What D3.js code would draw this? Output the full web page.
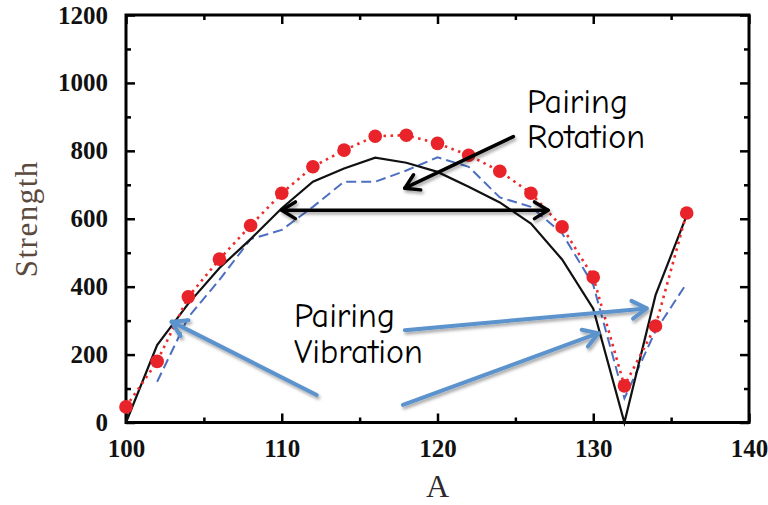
<!DOCTYPE html>
<html>
<head>
<meta charset="utf-8">
<script src="https://cdn.jsdelivr.net/npm/d3@7/dist/d3.min.js"></script>
<style>
  html, body { margin: 0; padding: 0; background: #fff; }
  svg { display: block; }
</style>
</head>
<body>
<svg id="chart" width="768" height="505"></svg>
<script>
// Mass number A (even nuclei)
const massA = [100, 102, 104, 106, 108, 110, 112, 114, 116, 118, 120, 122, 124, 126, 128, 130, 132, 134, 136];
// Red dotted series with markers
const redStrength = [46, 180, 370, 481, 580, 675, 753, 802, 843, 846, 822, 787, 740, 675, 576, 428, 108, 284, 617];
// Black solid series
const blackStrength = [0, 228, 350, 455, 540, 631, 709, 748, 780, 765, 738, 694, 648, 586, 480, 335, 0, 375, 610];
// Blue dashed series (no value at A = 100)
const blueStrength = [null, 120, 310, 420, 540, 567, 635, 709, 709, 742, 781, 753, 663, 635, 557, 405, 71, 270, 410];

const xMajorTicks = [100, 110, 120, 130, 140];
const xMinorTicks = [105, 115, 125, 135];
const yMajorTicks = [0, 200, 400, 600, 800, 1000, 1200];
const yMinorTicks = [100, 300, 500, 700, 900, 1100];

// Annotations in data units: [A, strength]
const rotationLabel = ["Pairing", "Rotation"];
const vibrationLabel = ["Pairing", "Vibration"];
const rotationArrow = [[124.87, 842], [117.9, 690]];
const widthArrow = [[110.0, 625], [127.1, 625]];
const vibrationArrows = [
  [[112.24, 81], [102.93, 297]],
  [[117.9, 272], [133.43, 336]],
  [[117.78, 52], [130.33, 263]]
];

const svg = d3.select("#chart");
const plotL = 126, plotR = 749, plotT = 15, plotB = 422.5;
const x = d3.scaleLinear().domain([100, 140]).range([plotL, plotR]);
const y = d3.scaleLinear().domain([0, 1200]).range([plotB, plotT]);

const defs = svg.append("defs");
const shadow = defs.append("filter").attr("id", "shadow")
  .attr("x", "-20%").attr("y", "-50%").attr("width", "140%").attr("height", "200%");
shadow.append("feDropShadow").attr("dx", 1.5).attr("dy", 2.5).attr("stdDeviation", 1.6)
  .attr("flood-color", "#000").attr("flood-opacity", 0.35);

const tickFont = "'Liberation Serif', 'Times New Roman', serif";

// Axes with inward ticks on all four sides
function styleAxis(g) {
  g.select(".domain").remove();
  g.selectAll(".tick line").attr("stroke", "#000").attr("stroke-width", 2.5);
  g.selectAll(".tick text").attr("font-family", tickFont).attr("font-weight", "bold")
    .attr("font-size", 25).attr("fill", "#111");
}

svg.append("g").attr("transform", `translate(0,${plotB})`)
  .call(d3.axisBottom(x).tickValues(xMajorTicks).tickSize(-9).tickPadding(17).tickFormat(d3.format("d")))
  .call(styleAxis);
svg.append("g").attr("transform", `translate(0,${plotB})`)
  .call(d3.axisBottom(x).tickValues(xMinorTicks).tickSize(-5).tickFormat(""))
  .call(styleAxis);
svg.append("g").attr("transform", `translate(0,${plotT})`)
  .call(d3.axisTop(x).tickValues(xMajorTicks).tickSize(-9).tickFormat(""))
  .call(styleAxis);
svg.append("g").attr("transform", `translate(0,${plotT})`)
  .call(d3.axisTop(x).tickValues(xMinorTicks).tickSize(-5).tickFormat(""))
  .call(styleAxis);
svg.append("g").attr("transform", `translate(${plotL},0)`)
  .call(d3.axisLeft(y).tickValues(yMajorTicks).tickSize(-9).tickPadding(18).tickFormat(d3.format("d")))
  .call(styleAxis);
svg.append("g").attr("transform", `translate(${plotL},0)`)
  .call(d3.axisLeft(y).tickValues(yMinorTicks).tickSize(-5).tickFormat(""))
  .call(styleAxis);
svg.append("g").attr("transform", `translate(${plotR},0)`)
  .call(d3.axisRight(y).tickValues(yMajorTicks).tickSize(-9).tickFormat(""))
  .call(styleAxis);
svg.append("g").attr("transform", `translate(${plotR},0)`)
  .call(d3.axisRight(y).tickValues(yMinorTicks).tickSize(-5).tickFormat(""))
  .call(styleAxis);

svg.append("rect").attr("x", plotL).attr("y", plotT)
  .attr("width", plotR - plotL).attr("height", plotB - plotT)
  .attr("fill", "none").attr("stroke", "#000").attr("stroke-width", 3);

// Axis titles
svg.append("text").attr("x", (plotL + plotR) / 2).attr("y", 497)
  .attr("text-anchor", "middle").attr("font-family", tickFont)
  .attr("font-size", 32).attr("fill", "#2e2a30").text("A");
svg.append("text").attr("transform", `translate(37,${(plotT + plotB) / 2}) rotate(-90)`)
  .attr("text-anchor", "middle").attr("font-family", tickFont)
  .attr("font-size", 31).attr("letter-spacing", 1.5).attr("fill", "#5c4a3e").text("Strength");

// Series
const plot = svg.append("g");
const lineGen = d3.line().defined(d => d[1] != null).x(d => x(d[0])).y(d => y(d[1]));
const series = (vals) => massA.map((a, i) => [a, vals[i]]);

plot.append("path").datum(series(blueStrength)).attr("d", lineGen)
  .attr("fill", "none").attr("stroke", "#4d6fc0").attr("stroke-width", 2)
  .attr("stroke-dasharray", "10,5");
plot.append("path").datum(series(blackStrength)).attr("d", lineGen)
  .attr("fill", "none").attr("stroke", "#111").attr("stroke-width", 2.2);
plot.append("path").datum(series(redStrength)).attr("d", lineGen)
  .attr("fill", "none").attr("stroke", "#ee2a2a").attr("stroke-width", 2.6)
  .attr("stroke-dasharray", "2.5,4.5");
plot.selectAll("circle.pt").data(series(redStrength)).enter().append("circle")
  .attr("class", "pt").attr("cx", d => x(d[0])).attr("cy", d => y(d[1]))
  .attr("r", 6.8).attr("fill", "#e8232a");

// Arrow helper: line with open chevron head(s)
function arrow(g, p0, p1, opts) {
  const x0 = x(p0[0]), y0 = y(p0[1]), x1 = x(p1[0]), y1 = y(p1[1]);
  const ang = Math.atan2(y1 - y0, x1 - x0);
  const L = opts.head, spread = 0.55;
  const grp = g.append("g");
  if (opts.filter) grp.attr("filter", opts.filter);
  grp.append("line").attr("x1", x0).attr("y1", y0).attr("x2", x1).attr("y2", y1)
    .attr("stroke", opts.color).attr("stroke-width", opts.width).attr("stroke-linecap", "round");
  const head = (hx, hy, a) => {
    const pts = [
      [hx - L * Math.cos(a - spread), hy - L * Math.sin(a - spread)],
      [hx, hy],
      [hx - L * Math.cos(a + spread), hy - L * Math.sin(a + spread)]
    ];
    grp.append("path").attr("d", d3.line()(pts)).attr("fill", "none")
      .attr("stroke", opts.color).attr("stroke-width", opts.width)
      .attr("stroke-linecap", "round").attr("stroke-linejoin", "round");
  };
  head(x1, y1, ang);
  if (opts.both) head(x0, y0, ang + Math.PI);
}

const ann = svg.append("g");
const handFont = "'Comic Sans MS', 'Comic Neue', 'Open Sans', sans-serif";

arrow(ann, widthArrow[0], widthArrow[1], { color: "#000", width: 3.5, head: 16, both: true, filter: "url(#shadow)" });
arrow(ann, rotationArrow[0], rotationArrow[1], { color: "#000", width: 3.5, head: 16, filter: "url(#shadow)" });
vibrationArrows.forEach(a => arrow(ann, a[0], a[1], { color: "#5b93cd", width: 4, head: 17, filter: "url(#shadow)" }));

ann.append("text").attr("font-family", handFont).attr("font-size", 34).attr("fill", "#000")
  .selectAll("tspan").data(rotationLabel).enter().append("tspan")
  .attr("x", 527).attr("y", (d, i) => 113 + i * 35).text(d => d);
ann.append("text").attr("font-family", handFont).attr("font-size", 34).attr("fill", "#000")
  .selectAll("tspan").data(vibrationLabel).enter().append("tspan")
  .attr("x", 294).attr("y", (d, i) => 327 + i * 36).text(d => d);
</script>
</body>
</html>
